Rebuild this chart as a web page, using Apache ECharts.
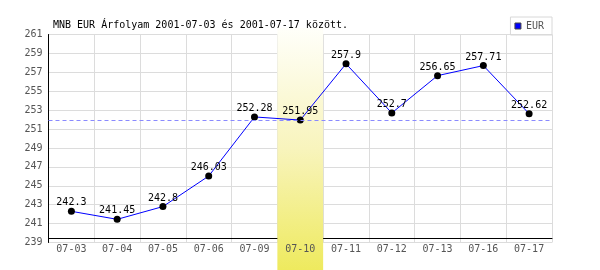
<!DOCTYPE html>
<html>
<head>
<meta charset="utf-8">
<script src="https://cdn.jsdelivr.net/npm/echarts@6/dist/echarts.min.js"></script>
<style>html,body{margin:0;padding:0;background:#fff}#c{width:600px;height:270px}</style>
</head>
<body>
<div id="c"></div>
<script>
const titleText = 'MNB EUR Árfolyam 2001-07-03 és 2001-07-17 között.';
const seriesName = 'EUR';
const categories = ['07-03','07-04','07-05','07-06','07-09','07-10','07-11','07-12','07-13','07-16','07-17'];
const values = [242.3, 241.45, 242.8, 246.03, 252.28, 251.95, 257.9, 252.7, 256.65, 257.71, 252.62];
const referenceLevel = 251.9;
const highlightCategory = '07-10';
const yMin = 239, yMax = 261, yStep = 2;

const FONT = 'DejaVu Sans Mono';
const chart = echarts.init(document.getElementById('c'), null, {renderer: 'canvas'});
chart.setOption({
  animation: false,
  backgroundColor: '#fff',
  title: {
    text: titleText, left: 48, top: 15,
    textStyle: {fontFamily: FONT, fontSize: 10, fontWeight: 'normal', color: '#000'}
  },
  legend: {
    right: 48, top: 17, orient: 'vertical',
    padding: [4, 8, 4, 4],
    borderColor: '#d8d8d8', borderWidth: 1,
    itemWidth: 6, itemHeight: 6,
    textStyle: {fontFamily: FONT, fontSize: 10, color: '#555'},
    data: [{name: seriesName, icon: 'rect', itemStyle: {color: '#0000ff', borderColor: '#444', borderWidth: 1}}]
  },
  grid: {left: 48.5, right: 48, top: 34.5, bottom: 27.5},
  xAxis: [{
    type: 'category', data: categories, boundaryGap: true, z: 0,
    axisLine: {show: false}, axisTick: {show: false}, axisLabel: {show: false},
    splitLine: {show: true, lineStyle: {color: '#dcdcdc', width: 1}}
  }, {
    type: 'category', data: categories, position: 'bottom', offset: -4, z: 0,
    axisLine: {show: true, lineStyle: {color: '#000', width: 1}},
    axisTick: {show: false}, axisLabel: {show: false}, splitLine: {show: false}
  }, {
    type: 'category', data: categories, position: 'bottom', z: 4,
    axisLine: {show: false}, axisTick: {show: false}, splitLine: {show: false},
    axisLabel: {fontFamily: FONT, fontSize: 10, color: '#555', margin: 2}
  }],
  yAxis: {
    type: 'value', min: yMin, max: yMax, interval: yStep,
    axisLine: {show: true, lineStyle: {color: '#000', width: 1}},
    axisTick: {show: false},
    axisLabel: {fontFamily: FONT, fontSize: 10, color: '#555', margin: 6},
    splitLine: {show: true, lineStyle: {color: '#dcdcdc', width: 1}}
  },
  series: [{
    name: 'ref', type: 'line', data: [], z: 0.5, silent: true,
    markLine: {
      silent: true, symbol: 'none', label: {show: false},
      lineStyle: {color: '#8a8aff', type: [4, 3], width: 1},
      data: [{yAxis: referenceLevel}]
    }
  }, {
    name: seriesName, type: 'line', data: values, z: 3,
    symbol: 'circle', symbolSize: 7,
    itemStyle: {color: '#000'},
    lineStyle: {color: '#0000ff', width: 1},
    label: {show: true, position: 'top', distance: 0, fontFamily: FONT, fontSize: 10, color: '#000'}
  }]
});

function drawBand() {
  const idx = categories.indexOf(highlightCategory);
  const cx = chart.convertToPixel({xAxisIndex: 0}, idx);
  const cx2 = chart.convertToPixel({xAxisIndex: 0}, idx + 1);
  const w = cx2 - cx;
  chart.setOption({
    graphic: [{
      type: 'rect', z: 1, silent: true,
      shape: {x: cx - w / 2, y: 28, width: w, height: 242},
      style: {fill: new echarts.graphic.LinearGradient(0, 0, 0, 1, [
        {offset: 0, color: '#fffffa'},
        {offset: 0.5, color: '#f8f4bc'},
        {offset: 1, color: '#eeea5e'}
      ])}
    }]
  });
}
drawBand();
</script>
</body>
</html>
